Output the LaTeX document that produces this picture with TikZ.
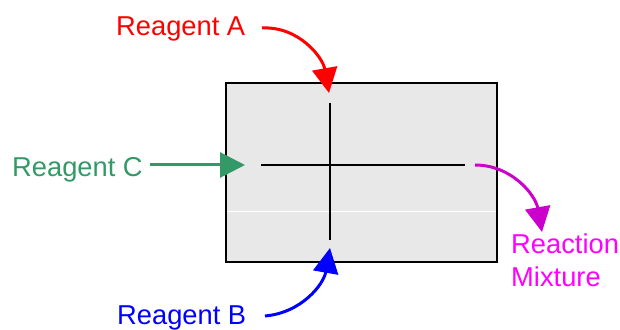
\documentclass[tikz,border=0pt]{standalone}
\usepackage{fontspec}
\setmainfont{Liberation Sans}
\usetikzlibrary{arrows.meta}
\definecolor{rA}{HTML}{FF0000}
\definecolor{rB}{HTML}{0000FF}
\definecolor{rC}{HTML}{339966}
\definecolor{rM}{HTML}{CC00CC}
\definecolor{rMt}{HTML}{FF00FF}
\definecolor{boxfill}{HTML}{E8E8E8}
\tikzset{
  lbl/.style={inner sep=0pt, anchor=base west, font=\fontsize{27.3}{32.5}\selectfont},
  feed/.style={line width=3pt, -{Triangle[length=25pt,width=25pt]}},
  inner/.style={line width=1.5pt, black}
}
\begin{document}
\begin{tikzpicture}[x=1pt,y=1pt]
\useasboundingbox (0,0) rectangle (620,329);
% box
\node[draw=black, line width=1.5pt, fill=boxfill, minimum width=271pt, minimum height=179pt, inner sep=0pt] (box) at (361.5,156.5) {};
\draw[white, line width=1pt] (227,117) -- (496,117);
\coordinate (vtop) at (330,226);
\coordinate (vbot) at (330,89);
\coordinate (hl) at (261,164);
\coordinate (hr) at (465,164);
\draw[inner] (vtop) -- (vbot);
\draw[inner] (hl) -- (hr);
% labels
\node[lbl, text=rA] (ta) at (116,293) {Reagent A};
\node[lbl, text=rC] (tc) at (12,152) {Reagent C};
\node[lbl, text=rB] (tb) at (117,5) {Reagent B};
\node[lbl, text=rMt, align=left, anchor=north west] (tm) at (511,95) {Reaction\\Mixture};
% arrow ends
\coordinate (sa) at (262,301);
\coordinate (ea) at (329,236);
\coordinate (sc) at (150,164);
\coordinate (ec) at (245,164);
\coordinate (sb) at (265,13);
\coordinate (eb) at (330,81);
\coordinate (sm) at (475,164);
\coordinate (em) at (542,97);
\draw[feed, rA] (sa) to[out=3, in=100] (ea);
\draw[feed, rC] (sc) -- (ec);
\draw[feed, rB] (sb) to[out=5, in=-100] (eb);
\draw[feed, rM] (sm) to[out=0, in=100] (em);
\end{tikzpicture}
\end{document}
